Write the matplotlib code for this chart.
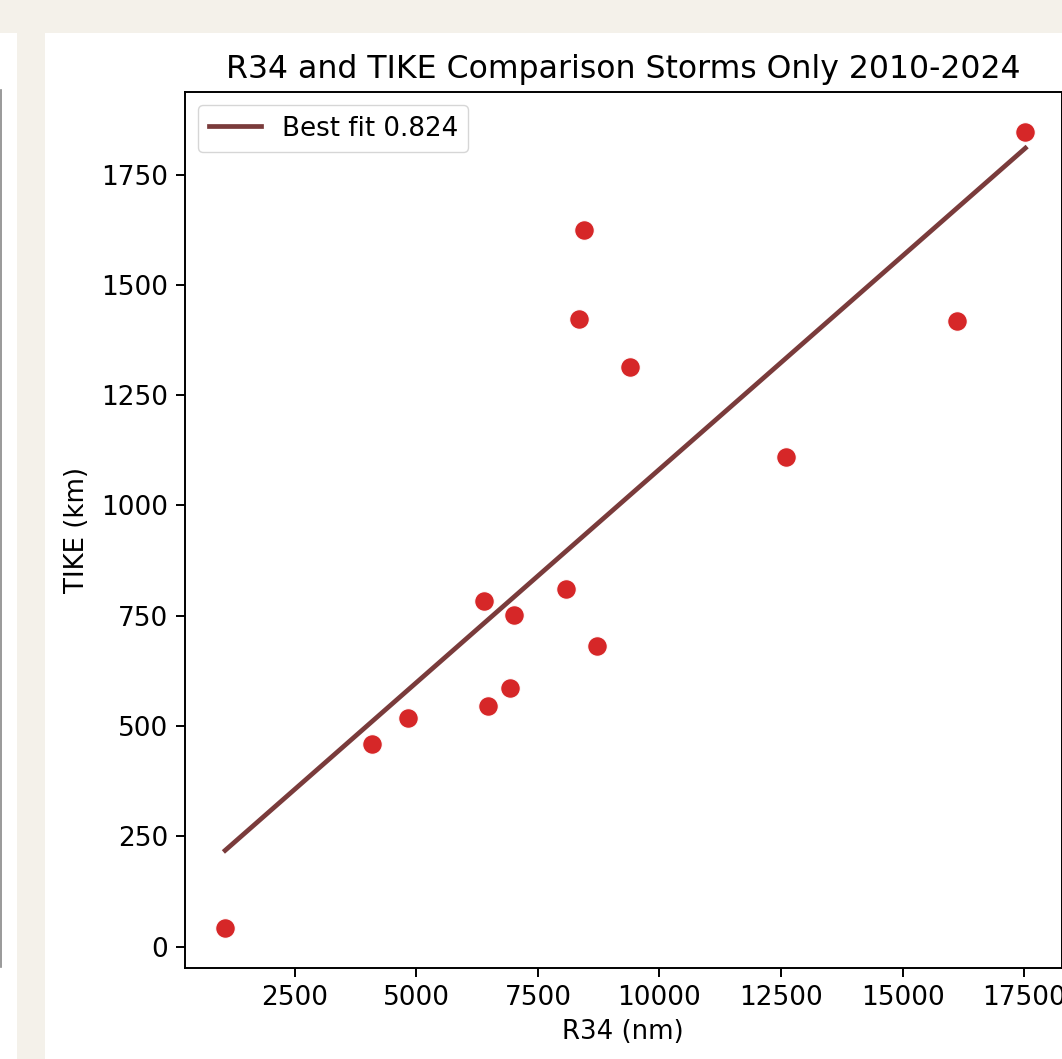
import matplotlib
matplotlib.use("Agg")
import matplotlib.pyplot as plt
from matplotlib.patches import Rectangle
from matplotlib.lines import Line2D
import numpy as np

# R34 vs TIKE, storms only 2010-2024
r34 = [1066, 4084, 4817, 6395, 6463, 6924, 7012, 8076, 8720,
       8344, 8446, 9393, 12609, 16128, 17527]
tike = [42, 459, 518, 784, 546, 586, 752, 810, 681,
        1422, 1624, 1314, 1110, 1418, 1846]
fit_r = 0.824

x = np.array(r34, dtype=float)
y = np.array(tike, dtype=float)
slope, intercept = np.polyfit(x, y, 1)
xs = np.array([x.min(), x.max()])

fig = plt.figure(figsize=(10.62, 10.59), dpi=100, facecolor="#f4f1ea")

# page background: neighbour panel on the left, white card for this chart
fig.patches.append(Rectangle((0, 0), 17 / 1062, 1026 / 1059, transform=fig.transFigure,
                             facecolor="white", edgecolor="none", zorder=-10))
fig.patches.append(Rectangle((45 / 1062, 0), 1017 / 1062, 1026 / 1059, transform=fig.transFigure,
                             facecolor="white", edgecolor="none", zorder=-10))
fig.lines.append(Line2D([0.6 / 1062, 0.6 / 1062], [92 / 1059, 969 / 1059],
                        transform=fig.transFigure, color="#888888", lw=1.2, zorder=-5))

ax = fig.add_axes([185 / 1062, 91.5 / 1059, 876.5 / 1062, 875.5 / 1059])
ax.set_zorder(1)

ax.plot(xs, slope * xs + intercept, color="#7a3b3b", lw=3.4,
        label=f"Best fit {fit_r:.3f}", zorder=2)
ax.scatter(x, y, s=200, color="#d62728", edgecolor="white", linewidth=0.8, zorder=3)

ax.set_xlim(240, 18270)
ax.set_ylim(-47, 1937)
ax.set_xticks([2500, 5000, 7500, 10000, 12500, 15000, 17500])
ax.set_yticks([0, 250, 500, 750, 1000, 1250, 1500, 1750])

ax.set_title("R34 and TIKE Comparison Storms Only 2010-2024", fontsize=22.7, pad=10)
ax.set_xlabel("R34 (nm)", fontsize=18.7, labelpad=6)
ax.set_ylabel("TIKE (km)", fontsize=18.7, labelpad=8)
ax.tick_params(labelsize=19, length=6.3, width=1.4, pad=6)
for sp in ax.spines.values():
    sp.set_linewidth(1.4)

ax.legend(loc="upper left", fontsize=18.8, borderaxespad=0.5, handlelength=2.0)

fig.savefig("out.png", dpi=100, facecolor=fig.get_facecolor())
